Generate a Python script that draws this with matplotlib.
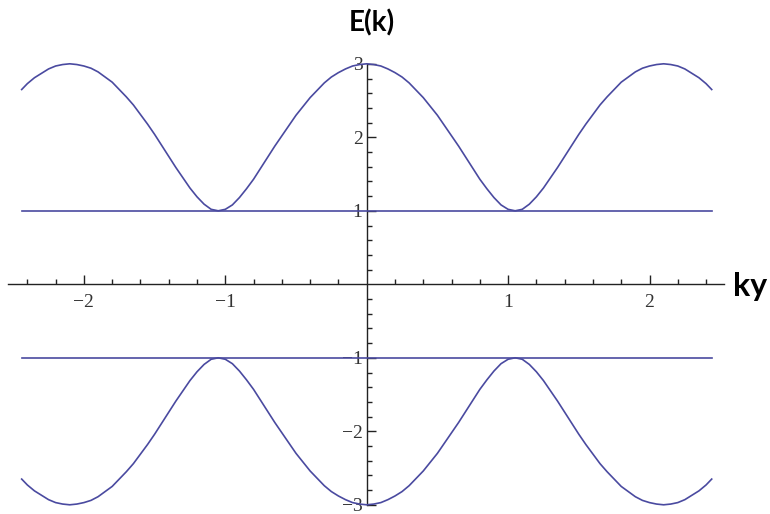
import matplotlib
matplotlib.use("Agg")
import matplotlib.pyplot as plt
from matplotlib.ticker import FixedLocator

# values
k_vals = [-2.44, -2.4, -2.35, -2.3, -2.25, -2.2, -2.15, -2.1, -2.05, -2.0, -1.95, -1.9, -1.85,
          -1.8, -1.75, -1.7, -1.65, -1.6, -1.55, -1.5, -1.45, -1.4, -1.35, -1.3, -1.25,
          -1.2, -1.15, -1.1, -1.05, -1.0, -0.95, -0.9, -0.85, -0.8, -0.75, -0.7, -0.65,
          -0.6, -0.55, -0.5, -0.45, -0.4, -0.35, -0.3, -0.25, -0.2, -0.15, -0.1, -0.05,
          0.0, 0.05, 0.1, 0.15, 0.2, 0.25, 0.3, 0.35, 0.4, 0.45, 0.5, 0.55, 0.6, 0.65,
          0.7, 0.75, 0.8, 0.85, 0.9, 0.95, 1.0, 1.05, 1.1, 1.15, 1.2, 1.25, 1.3, 1.35,
          1.4, 1.45, 1.5, 1.55, 1.6, 1.65, 1.7, 1.75, 1.8, 1.85, 1.9, 1.95, 2.0, 2.05,
          2.1, 2.15, 2.2, 2.25, 2.3, 2.35, 2.4, 2.44]
upper_band = [2.65, 2.73, 2.81, 2.87, 2.93, 2.97, 2.99, 3.00, 2.99, 2.97, 2.94, 2.89, 2.82,
              2.75, 2.65, 2.55, 2.44, 2.31, 2.18, 2.04, 1.89, 1.74, 1.59, 1.45, 1.31,
              1.19, 1.09, 1.02, 1.00, 1.02, 1.08, 1.18, 1.30, 1.43, 1.58, 1.73, 1.88,
              2.02, 2.16, 2.30, 2.42, 2.54, 2.64, 2.74, 2.82, 2.88, 2.93, 2.97, 2.99,
              3.00, 2.99, 2.97, 2.93, 2.88, 2.82, 2.74, 2.64, 2.54, 2.42, 2.30, 2.16, 2.02, 1.88,
              1.73, 1.58, 1.43, 1.30, 1.18, 1.08, 1.02, 1.00, 1.02, 1.09, 1.19, 1.31, 1.45, 1.59,
              1.74, 1.89, 2.04, 2.18, 2.31, 2.44, 2.55, 2.65, 2.75, 2.82, 2.89, 2.94, 2.97, 2.99,
              3.00, 2.99, 2.97, 2.93, 2.87, 2.81, 2.73, 2.65]
lower_band = [-2.65, -2.73, -2.81, -2.87, -2.93, -2.97, -2.99, -3.00, -2.99, -2.97, -2.94, -2.89, -2.82,
              -2.75, -2.65, -2.55, -2.44, -2.31, -2.18, -2.04, -1.89, -1.74, -1.59, -1.45, -1.31,
              -1.19, -1.09, -1.02, -1.00, -1.02, -1.08, -1.18, -1.30, -1.43, -1.58, -1.73, -1.88,
              -2.02, -2.16, -2.30, -2.42, -2.54, -2.64, -2.74, -2.82, -2.88, -2.93, -2.97, -2.99,
              -3.00, -2.99, -2.97, -2.93, -2.88, -2.82, -2.74, -2.64, -2.54, -2.42, -2.30, -2.16, -2.02, -1.88,
              -1.73, -1.58, -1.43, -1.30, -1.18, -1.08, -1.02, -1.00, -1.02, -1.09, -1.19, -1.31, -1.45, -1.59,
              -1.74, -1.89, -2.04, -2.18, -2.31, -2.44, -2.55, -2.65, -2.75, -2.82, -2.89, -2.94, -2.97, -2.99,
              -3.00, -2.99, -2.97, -2.93, -2.87, -2.81, -2.73, -2.65]
flat_k = [-2.44, 2.44]
flat_upper = [1.0, 1.0]
flat_lower = [-1.0, -1.0]

x_major = [-2, -1, 1, 2]
x_major_labels = ["\u22122", "\u22121", "1", "2"]
y_major = [-3, -2, -1, 1, 2, 3]
y_major_labels = ["\u22123", "\u22122", "\u22121", "1", "2", "3"]
x_minor = [-2.4, -2.2, -1.8, -1.6, -1.4, -1.2, -0.8, -0.6, -0.4, -0.2,
           0.2, 0.4, 0.6, 0.8, 1.2, 1.4, 1.6, 1.8, 2.2, 2.4]
y_minor = [-2.8, -2.6, -2.4, -2.2, -1.8, -1.6, -1.4, -1.2, -0.8, -0.6, -0.4, -0.2,
           0.2, 0.4, 0.6, 0.8, 1.2, 1.4, 1.6, 1.8, 2.2, 2.4, 2.6, 2.8]

W, H = 770, 514
fig = plt.figure(figsize=(W / 100, H / 100), dpi=100)

x0, ppx = 366.7, 141.4
y0, ppy = 284.3, 73.5
xlim = (-2.55, 2.55)
ylim = (-3.05, 3.2)
left_px = x0 + xlim[0] * ppx
right_px = x0 + xlim[1] * ppx
top_px = y0 - ylim[1] * ppy
bot_px = y0 - ylim[0] * ppy
ax = fig.add_axes([left_px / W, 1 - bot_px / H, (right_px - left_px) / W, (bot_px - top_px) / H])
ax.set_xlim(*xlim)
ax.set_ylim(*ylim)
ax.patch.set_alpha(0)

col = "#4a4aa0"
lw = 1.2
ax.plot(k_vals, upper_band, color=col, lw=lw)
ax.plot(k_vals, lower_band, color=col, lw=lw)
ax.plot(flat_k, flat_upper, color=col, lw=lw)
ax.plot(flat_k, flat_lower, color=col, lw=lw)

for s in ["top", "right"]:
    ax.spines[s].set_visible(False)
ax.spines["left"].set_position(("data", 0))
ax.spines["bottom"].set_position(("data", 0))
ax.spines["left"].set_bounds(-3, 3)
ax.spines["bottom"].set_bounds(-2.535, 2.525)
for s in ["left", "bottom"]:
    ax.spines[s].set_color("#222222")
    ax.spines[s].set_linewidth(1.0)
    ax.spines[s].set_zorder(1)

ax.xaxis.set_major_locator(FixedLocator(x_major))
ax.xaxis.set_minor_locator(FixedLocator(x_minor))
ax.yaxis.set_major_locator(FixedLocator(y_major))
ax.yaxis.set_minor_locator(FixedLocator(y_minor))
ax.set_xticklabels(x_major_labels)
ax.set_yticklabels(y_major_labels)

serif = ["Liberation Serif", "DejaVu Serif"]
ax.tick_params(axis="x", which="major", direction="in", length=6.5, width=1.0, color="#222222", pad=7)
ax.tick_params(axis="x", which="minor", direction="in", length=3.3, width=1.0, color="#222222")
ax.tick_params(axis="y", which="major", direction="in", length=6.5, width=1.0, color="#222222", pad=3)
ax.tick_params(axis="y", which="minor", direction="in", length=3.3, width=1.0, color="#222222")
for lab in ax.get_xticklabels() + ax.get_yticklabels():
    lab.set_fontfamily(serif)
    lab.set_fontsize(14)
    lab.set_color("#333333")

sans = ["Lato", "DejaVu Sans"]
fig.text(372 / W, 1 - 23 / H, "E(k)", ha="center", va="center",
         fontsize=20, fontweight="bold", family=sans, color="black")
fig.text(733 / W, 1 - 296 / H, "ky", ha="left", va="baseline",
         fontsize=23, fontweight="bold", family=sans, color="black")

fig.savefig("out.png", dpi=100)
